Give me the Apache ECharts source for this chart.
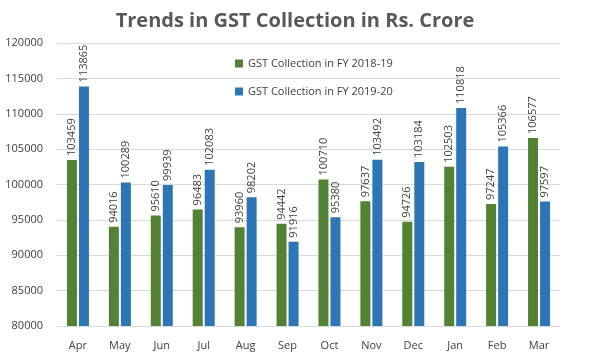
<!DOCTYPE html>
<html><head><meta charset="utf-8">
<script src="https://cdn.jsdelivr.net/npm/echarts@6/dist/echarts.min.js"></script>
<style>html,body{margin:0;padding:0;background:#fff}#c{width:590px;height:361px}</style>
</head><body><div id="c"></div>
<script>
var months = ['Apr','May','Jun','Jul','Aug','Sep','Oct','Nov','Dec','Jan','Feb','Mar'];
var fy1819 = [103459,94016,95610,96483,93960,94442,100710,97637,94726,102503,97247,106577];
var fy1920 = [113865,100289,99939,102083,98202,91916,95380,103492,103184,110818,105366,97597];
var yTicks = [80000,85000,90000,95000,100000,105000,110000,115000,120000];
var chart = echarts.init(document.getElementById('c'));
var lbl = {show:true,position:'top',rotate:90,align:'left',verticalAlign:'middle',distance:4,color:'#404040',fontSize:11,fontFamily:'Open Sans'};
chart.setOption({
  animation:false,
  title:{text:'Trends in GST Collection in Rs. Crore',left:'center',top:6,textStyle:{fontFamily:'Open Sans',fontSize:20,fontWeight:'bold',color:'#595959'}},
  legend:{orient:'vertical',left:230,top:53,itemGap:17,itemWidth:8,itemHeight:8,icon:'rect',textStyle:{fontFamily:'Open Sans',fontSize:11,color:'#404040'}},
  grid:{left:57,right:30,top:43,bottom:35,containLabel:false},
  xAxis:{type:'category',data:months,axisTick:{show:false},axisLine:{lineStyle:{color:'#d9d9d9'}},axisLabel:{color:'#404040',fontSize:11,fontFamily:'Open Sans',margin:14}},
  yAxis:{type:'value',min:yTicks[0],max:yTicks[yTicks.length-1],interval:5000,axisLabel:{color:'#404040',fontSize:11,fontFamily:'Open Sans',margin:14,formatter:function(v){return String(v);}},splitLine:{lineStyle:{color:'#d9d9d9'}},axisLine:{show:false},axisTick:{show:false}},
  series:[
    {name:'GST Collection in FY 2018-19',type:'bar',data:fy1819,barWidth:10,barGap:'20%',itemStyle:{color:'#548235'},label:lbl},
    {name:'GST Collection in FY 2019-20',type:'bar',data:fy1920,barWidth:10,itemStyle:{color:'#2E75B6'},label:lbl}
  ]
});
</script></body></html>
